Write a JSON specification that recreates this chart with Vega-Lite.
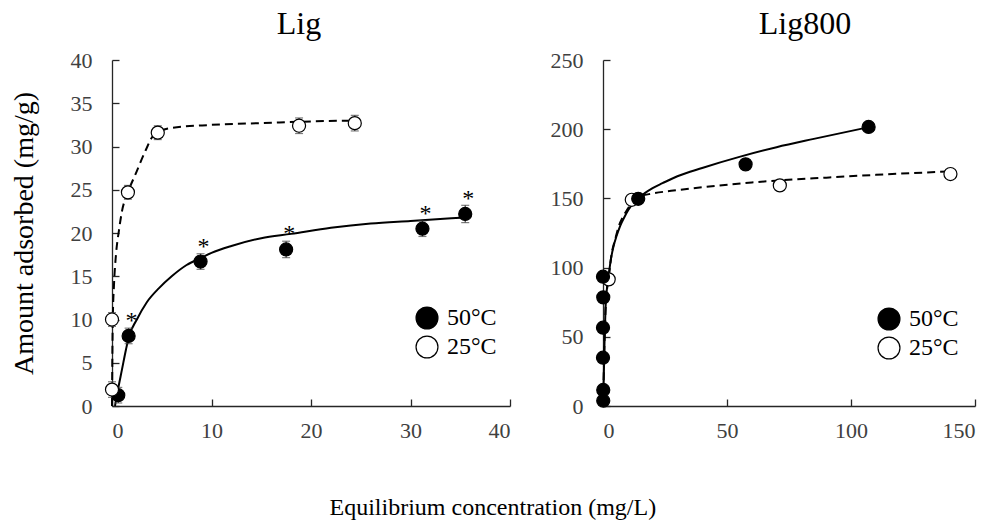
{
  "$schema": "https://vega.github.io/schema/vega-lite/v6.json",
  "background": "white",
  "padding": {"left": 10, "top": 8, "right": 15, "bottom": 3},
  "config": {
    "font": "Liberation Serif",
    "view": {"stroke": null},
    "axis": {
      "grid": false,
      "domainColor": "#262626",
      "tickColor": "#262626",
      "domainWidth": 1.3,
      "tickWidth": 1.3,
      "tickSize": -7,
      "labelFont": "Liberation Serif",
      "labelFontSize": 22,
      "labelColor": "#404040",
      "titleFont": "Liberation Serif",
      "titleFontWeight": "normal",
      "titleColor": "#000000"
    },
    "axisX": {"labelPadding": 21},
    "axisY": {"labelPadding": 27},
    "title": {"font": "Liberation Serif", "fontWeight": "normal", "color": "#000000"}
  },
  "spacing": 39,
  "title": {
    "text": "Equilibrium concentration (mg/L)",
    "orient": "bottom",
    "anchor": "middle",
    "fontSize": 24,
    "offset": 55
  },
  "datasets": {
    "pts": [
      {"panel": "Lig", "series": "50°C", "x": 0.63, "y": 1.25, "err": 0.9, "star": 0},
      {"panel": "Lig", "series": "50°C", "x": 1.67, "y": 8.1, "err": 0.9, "star": 1},
      {"panel": "Lig", "series": "50°C", "x": 8.9, "y": 16.7, "err": 0.9, "star": 1},
      {"panel": "Lig", "series": "50°C", "x": 17.5, "y": 18.1, "err": 0.95, "star": 1},
      {"panel": "Lig", "series": "50°C", "x": 31.2, "y": 20.5, "err": 0.9, "star": 1},
      {"panel": "Lig", "series": "50°C", "x": 35.5, "y": 22.2, "err": 1.0, "star": 1},
      {"panel": "Lig", "series": "25°C", "x": 0.0, "y": 1.9, "err": 0.9, "star": 0},
      {"panel": "Lig", "series": "25°C", "x": 0.0, "y": 10.0, "err": 0.8, "star": 0},
      {"panel": "Lig", "series": "25°C", "x": 1.6, "y": 24.7, "err": 0.8, "star": 0},
      {"panel": "Lig", "series": "25°C", "x": 4.6, "y": 31.6, "err": 0.8, "star": 0},
      {"panel": "Lig", "series": "25°C", "x": 18.8, "y": 32.4, "err": 0.9, "star": 0},
      {"panel": "Lig", "series": "25°C", "x": 24.4, "y": 32.7, "err": 0.9, "star": 0},
      {"panel": "Lig800", "series": "25°C", "x": 2.3, "y": 91.5, "err": 0, "star": 0},
      {"panel": "Lig800", "series": "25°C", "x": 11.6, "y": 149.0, "err": 0, "star": 0},
      {"panel": "Lig800", "series": "25°C", "x": 71.3, "y": 159.4, "err": 0, "star": 0},
      {"panel": "Lig800", "series": "25°C", "x": 140.1, "y": 167.6, "err": 0, "star": 0},
      {"panel": "Lig800", "series": "50°C", "x": 0.1, "y": 3.8, "err": 0, "star": 0},
      {"panel": "Lig800", "series": "50°C", "x": 0.1, "y": 11.6, "err": 0, "star": 0},
      {"panel": "Lig800", "series": "50°C", "x": 0.0, "y": 34.9, "err": 0, "star": 0},
      {"panel": "Lig800", "series": "50°C", "x": 0.0, "y": 56.6, "err": 0, "star": 0},
      {"panel": "Lig800", "series": "50°C", "x": 0.1, "y": 78.5, "err": 0, "star": 0},
      {"panel": "Lig800", "series": "50°C", "x": 0.0, "y": 93.4, "err": 0, "star": 0},
      {"panel": "Lig800", "series": "50°C", "x": 14.2, "y": 149.7, "err": 0, "star": 0},
      {"panel": "Lig800", "series": "50°C", "x": 57.5, "y": 174.6, "err": 0, "star": 0},
      {"panel": "Lig800", "series": "50°C", "x": 107.1, "y": 201.6, "err": 0, "star": 0}
    ],
    "fit": [
      {"panel": "Lig", "series": "25°C", "x": 0, "y": 0},
      {"panel": "Lig", "series": "25°C", "x": 0.03, "y": 5},
      {"panel": "Lig", "series": "25°C", "x": 0.08, "y": 10},
      {"panel": "Lig", "series": "25°C", "x": 0.2, "y": 14},
      {"panel": "Lig", "series": "25°C", "x": 0.4, "y": 17.5},
      {"panel": "Lig", "series": "25°C", "x": 0.7, "y": 20.3},
      {"panel": "Lig", "series": "25°C", "x": 1.0, "y": 22.5},
      {"panel": "Lig", "series": "25°C", "x": 1.6, "y": 24.7},
      {"panel": "Lig", "series": "25°C", "x": 2.4, "y": 26.9},
      {"panel": "Lig", "series": "25°C", "x": 3.4, "y": 29.6},
      {"panel": "Lig", "series": "25°C", "x": 4.1, "y": 31.2},
      {"panel": "Lig", "series": "25°C", "x": 4.7, "y": 31.7},
      {"panel": "Lig", "series": "25°C", "x": 5.7, "y": 32.1},
      {"panel": "Lig", "series": "25°C", "x": 10, "y": 32.5},
      {"panel": "Lig", "series": "25°C", "x": 15, "y": 32.7},
      {"panel": "Lig", "series": "25°C", "x": 20, "y": 32.9},
      {"panel": "Lig", "series": "25°C", "x": 24.4, "y": 33.0},
      {"panel": "Lig", "series": "50°C", "x": 0.3, "y": 0},
      {"panel": "Lig", "series": "50°C", "x": 0.6, "y": 1.9},
      {"panel": "Lig", "series": "50°C", "x": 1.0, "y": 4.2},
      {"panel": "Lig", "series": "50°C", "x": 1.4, "y": 6.5},
      {"panel": "Lig", "series": "50°C", "x": 1.67, "y": 7.9},
      {"panel": "Lig", "series": "50°C", "x": 2.5, "y": 10.0},
      {"panel": "Lig", "series": "50°C", "x": 3.5, "y": 12.0},
      {"panel": "Lig", "series": "50°C", "x": 4.7, "y": 13.6},
      {"panel": "Lig", "series": "50°C", "x": 6.0, "y": 15.0},
      {"panel": "Lig", "series": "50°C", "x": 7.5, "y": 16.3},
      {"panel": "Lig", "series": "50°C", "x": 8.9, "y": 17.1},
      {"panel": "Lig", "series": "50°C", "x": 10, "y": 17.7},
      {"panel": "Lig", "series": "50°C", "x": 12, "y": 18.5},
      {"panel": "Lig", "series": "50°C", "x": 15, "y": 19.4},
      {"panel": "Lig", "series": "50°C", "x": 18, "y": 19.9},
      {"panel": "Lig", "series": "50°C", "x": 22, "y": 20.6},
      {"panel": "Lig", "series": "50°C", "x": 26, "y": 21.1},
      {"panel": "Lig", "series": "50°C", "x": 30, "y": 21.4},
      {"panel": "Lig", "series": "50°C", "x": 35.5, "y": 21.8},
      {"panel": "Lig800", "series": "50°C", "x": 0, "y": 0},
      {"panel": "Lig800", "series": "50°C", "x": 0.3, "y": 20},
      {"panel": "Lig800", "series": "50°C", "x": 0.6, "y": 45},
      {"panel": "Lig800", "series": "50°C", "x": 1.0, "y": 70},
      {"panel": "Lig800", "series": "50°C", "x": 1.6, "y": 85},
      {"panel": "Lig800", "series": "50°C", "x": 2.2, "y": 93},
      {"panel": "Lig800", "series": "50°C", "x": 3, "y": 104},
      {"panel": "Lig800", "series": "50°C", "x": 4.2, "y": 115},
      {"panel": "Lig800", "series": "50°C", "x": 5.5, "y": 123},
      {"panel": "Lig800", "series": "50°C", "x": 6.9, "y": 130},
      {"panel": "Lig800", "series": "50°C", "x": 8.5, "y": 136},
      {"panel": "Lig800", "series": "50°C", "x": 10.2, "y": 141.6},
      {"panel": "Lig800", "series": "50°C", "x": 12, "y": 146},
      {"panel": "Lig800", "series": "50°C", "x": 14.3, "y": 149.8},
      {"panel": "Lig800", "series": "50°C", "x": 17, "y": 154},
      {"panel": "Lig800", "series": "50°C", "x": 20, "y": 157.5},
      {"panel": "Lig800", "series": "50°C", "x": 24, "y": 161},
      {"panel": "Lig800", "series": "50°C", "x": 30, "y": 166},
      {"panel": "Lig800", "series": "50°C", "x": 40, "y": 172},
      {"panel": "Lig800", "series": "50°C", "x": 55, "y": 180},
      {"panel": "Lig800", "series": "50°C", "x": 70, "y": 187},
      {"panel": "Lig800", "series": "50°C", "x": 85, "y": 193},
      {"panel": "Lig800", "series": "50°C", "x": 107, "y": 201.4},
      {"panel": "Lig800", "series": "25°C", "x": 0, "y": 0},
      {"panel": "Lig800", "series": "25°C", "x": 0.3, "y": 22},
      {"panel": "Lig800", "series": "25°C", "x": 0.6, "y": 47},
      {"panel": "Lig800", "series": "25°C", "x": 1.0, "y": 68},
      {"panel": "Lig800", "series": "25°C", "x": 1.5, "y": 82},
      {"panel": "Lig800", "series": "25°C", "x": 2.3, "y": 93},
      {"panel": "Lig800", "series": "25°C", "x": 3.5, "y": 110},
      {"panel": "Lig800", "series": "25°C", "x": 5, "y": 121},
      {"panel": "Lig800", "series": "25°C", "x": 6.2, "y": 129},
      {"panel": "Lig800", "series": "25°C", "x": 8, "y": 136.5},
      {"panel": "Lig800", "series": "25°C", "x": 10, "y": 142.5},
      {"panel": "Lig800", "series": "25°C", "x": 12.3, "y": 148.5},
      {"panel": "Lig800", "series": "25°C", "x": 15, "y": 151.5},
      {"panel": "Lig800", "series": "25°C", "x": 20, "y": 153.5},
      {"panel": "Lig800", "series": "25°C", "x": 30, "y": 156},
      {"panel": "Lig800", "series": "25°C", "x": 45, "y": 159},
      {"panel": "Lig800", "series": "25°C", "x": 60, "y": 161.5},
      {"panel": "Lig800", "series": "25°C", "x": 71.3, "y": 163},
      {"panel": "Lig800", "series": "25°C", "x": 90, "y": 165},
      {"panel": "Lig800", "series": "25°C", "x": 110, "y": 167},
      {"panel": "Lig800", "series": "25°C", "x": 140, "y": 169.5}
    ]
  },
  "hconcat": [
    {
      "width": 398,
      "height": 346,
      "title": {"text": "Lig", "fontSize": 32, "baseline": "alphabetic", "offset": -17, "dx": -12},
      "encoding": {
        "x": {"field": "x", "type": "quantitative", "scale": {"domain": [0, 40]}, "axis": {"values": [0, 10, 20, 30, 40], "title": null}},
        "y": {"field": "y", "type": "quantitative", "scale": {"domain": [0, 40]}, "axis": {"values": [0, 5, 10, 15, 20, 25, 30, 35, 40], "title": "Amount adsorbed (mg/g)", "titleFontSize": 28, "titlePadding": 32}}
      },
      "layer": [
        {
          "data": {"name": "fit"},
          "transform": [{"filter": "datum.panel === 'Lig' && datum.series === '50°C'"}],
          "mark": {"type": "line", "interpolate": "monotone", "color": "black", "strokeWidth": 2},
          "encoding": {}
        },
        {
          "data": {"name": "fit"},
          "transform": [{"filter": "datum.panel === 'Lig' && datum.series === '25°C'"}],
          "mark": {"type": "line", "interpolate": "monotone", "color": "black", "strokeWidth": 2, "strokeDash": [8, 5]},
          "encoding": {}
        },
        {
          "data": {"name": "pts"},
          "transform": [{"filter": "datum.panel === 'Lig'"}],
          "mark": {"type": "errorbar", "ticks": {"size": 8}, "color": "#444444", "thickness": 1.2},
          "encoding": {
            "y": {"field": "y", "type": "quantitative"},
            "yError": {"field": "err"}
          }
        },
        {
          "data": {"name": "pts"},
          "transform": [{"filter": "datum.panel === 'Lig'"}],
          "mark": {"type": "point", "shape": "circle", "filled": true, "size": 170, "stroke": "black", "strokeWidth": 1.2, "opacity": 1},
          "encoding": {
            "fill": {
              "field": "series", "type": "nominal",
              "scale": {"domain": ["50°C", "25°C"], "range": ["black", "white"]},
              "legend": {
                "title": null, "orient": "none", "legendX": 303, "legendY": 246,
                "symbolType": "circle", "symbolSize": 480, "symbolStrokeColor": "black", "symbolStrokeWidth": 1.2, "symbolOpacity": 1,
                "labelFont": "Liberation Serif", "labelFontSize": 24, "labelColor": "black", "labelOffset": 8, "rowPadding": 1
              }
            }
          }
        },
        {
          "data": {"name": "pts"},
          "transform": [{"filter": "datum.panel === 'Lig' && datum.star === 1"}],
          "mark": {"type": "text", "text": "*", "fontSize": 24, "dx": 3, "dy": -8, "baseline": "alphabetic", "color": "black"}
        }
      ]
    },
    {
      "width": 372,
      "height": 346,
      "title": {"text": "Lig800", "fontSize": 32, "baseline": "alphabetic", "offset": -17, "dx": 16},
      "encoding": {
        "x": {"field": "x", "type": "quantitative", "scale": {"domain": [0, 150]}, "axis": {"values": [0, 50, 100, 150], "title": null}},
        "y": {"field": "y", "type": "quantitative", "scale": {"domain": [0, 250]}, "axis": {"values": [0, 50, 100, 150, 200, 250], "title": null}}
      },
      "layer": [
        {
          "data": {"name": "fit"},
          "transform": [{"filter": "datum.panel === 'Lig800' && datum.series === '50°C'"}],
          "mark": {"type": "line", "interpolate": "monotone", "color": "black", "strokeWidth": 2},
          "encoding": {}
        },
        {
          "data": {"name": "fit"},
          "transform": [{"filter": "datum.panel === 'Lig800' && datum.series === '25°C'"}],
          "mark": {"type": "line", "interpolate": "monotone", "color": "black", "strokeWidth": 2, "strokeDash": [8, 5]},
          "encoding": {}
        },
        {
          "data": {"name": "pts"},
          "transform": [{"filter": "datum.panel === 'Lig800'"}],
          "mark": {"type": "point", "shape": "circle", "filled": true, "size": 170, "stroke": "black", "strokeWidth": 1.2, "opacity": 1},
          "encoding": {
            "fill": {
              "field": "series", "type": "nominal",
              "scale": {"domain": ["50°C", "25°C"], "range": ["black", "white"]},
              "legend": {
                "title": null, "orient": "none", "legendX": 274, "legendY": 247,
                "symbolType": "circle", "symbolSize": 480, "symbolStrokeColor": "black", "symbolStrokeWidth": 1.2, "symbolOpacity": 1,
                "labelFont": "Liberation Serif", "labelFontSize": 24, "labelColor": "black", "labelOffset": 8, "rowPadding": 1
              }
            }
          }
        }
      ]
    }
  ],
  "resolve": {
    "scale": {"fill": "independent"},
    "legend": {"fill": "independent"}
  }
}
